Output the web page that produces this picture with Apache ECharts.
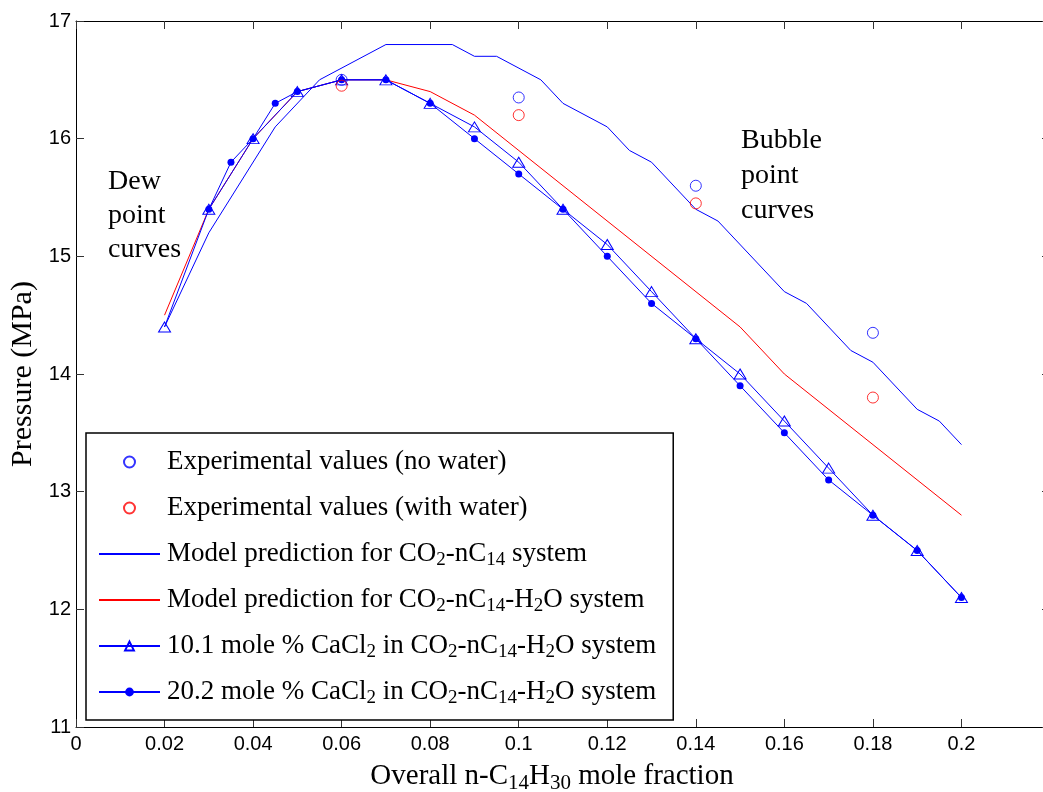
<!DOCTYPE html>
<html>
<head>
<meta charset="utf-8">
<script src="https://cdn.jsdelivr.net/npm/echarts@6/dist/echarts.min.js"></script>
<style>
  html, body { margin: 0; padding: 0; background: #fff; overflow: hidden; }
  /* the axes box runs slightly past the right edge of the window */
  #chart { width: 1052px; height: 792px; }
</style>
</head>
<body>
<div id="chart"></div>
<script>
// Experimental bubble/dew point pressures (MPa)
const expX = [0.06, 0.10, 0.14, 0.18];
const expNoWaterP = [16.5, 16.35, 15.6, 14.35];
const expWithWaterP = [16.45, 16.2, 15.45, 13.8];

// Model prediction, CO2-nC14
const modelDryX = [0.02, 0.03, 0.045, 0.055, 0.07, 0.085, 0.09, 0.095, 0.105, 0.11, 0.12, 0.125, 0.13, 0.14, 0.145, 0.16, 0.165, 0.175, 0.18, 0.19, 0.195, 0.2];
const modelDryP = [14.4, 15.2, 16.1, 16.5, 16.8, 16.8, 16.7, 16.7, 16.5, 16.3, 16.1, 15.9, 15.8, 15.4, 15.3, 14.7, 14.6, 14.2, 14.1, 13.7, 13.6, 13.4];

// Model prediction, CO2-nC14-H2O
const modelWetX = [0.02, 0.03, 0.04, 0.05, 0.06, 0.07, 0.08, 0.09, 0.15, 0.16, 0.2];
const modelWetP = [14.5, 15.4, 16.0, 16.4, 16.5, 16.5, 16.4, 16.2, 14.4, 14.0, 12.8];

// 10.1 mole % CaCl2
const cacl10X = [0.02, 0.03, 0.04, 0.05, 0.06, 0.07, 0.08, 0.09, 0.10, 0.11, 0.12, 0.13, 0.14, 0.15, 0.16, 0.17, 0.18, 0.19, 0.2];
const cacl10P = [14.4, 15.4, 16.0, 16.4, 16.5, 16.5, 16.3, 16.1, 15.8, 15.4, 15.1, 14.7, 14.3, 14.0, 13.6, 13.2, 12.8, 12.5, 12.1];

// 20.2 mole % CaCl2
const cacl20X = [0.03, 0.035, 0.04, 0.045, 0.05, 0.06, 0.07, 0.08, 0.09, 0.10, 0.11, 0.12, 0.13, 0.14, 0.15, 0.16, 0.17, 0.18, 0.19, 0.2];
const cacl20P = [15.4, 15.8, 16.0, 16.3, 16.4, 16.5, 16.5, 16.3, 16.0, 15.7, 15.4, 15.0, 14.6, 14.3, 13.9, 13.5, 13.1, 12.8, 12.5, 12.1];

// Axis ranges
const xMin = 0, xMax = 0.22, xStep = 0.02;
const yMin = 11, yMax = 17, yStep = 1;

const seriesNames = [
  'Experimental values (no water)',
  'Experimental values (with water)',
  'Model prediction for CO2-nC14 system',
  'Model prediction for CO2-nC14-H2O system',
  '10.1 mole % CaCl2 in CO2-nC14-H2O system',
  '20.2 mole % CaCl2 in CO2-nC14-H2O system'
];
const legendRich = {
  [seriesNames[0]]: 'Experimental values (no water)',
  [seriesNames[1]]: 'Experimental values (with water)',
  [seriesNames[2]]: 'Model prediction for CO{s|2}-nC{s|14} system',
  [seriesNames[3]]: 'Model prediction for CO{s|2}-nC{s|14}-H{s|2}O system',
  [seriesNames[4]]: '10.1 mole % CaCl{s|2} in CO{s|2}-nC{s|14}-H{s|2}O system',
  [seriesNames[5]]: '20.2 mole % CaCl{s|2} in CO{s|2}-nC{s|14}-H{s|2}O system'
};
// line-only entries: no marker in the legend key
const lineOnly = [seriesNames[2], seriesNames[3]];

const zip = (xs, ys) => xs.map((x, i) => [x, ys[i]]);

const SERIF = 'Liberation Serif';
const SANS = 'Liberation Sans';
const BLUE = '#0000ff';
const RED = '#ff0000';

const subStyle = (size, lh, drop) => ({ fontFamily: SERIF, fontSize: size, lineHeight: lh, padding: [drop, 0, 0, 0], color: '#000' });

const chart = echarts.init(document.getElementById('chart'), null, { renderer: 'canvas' });

const commonAxis = {
  axisLine: { show: true, onZero: false, lineStyle: { color: '#000', width: 1 } },
  axisTick: { show: true, inside: true, length: 8, lineStyle: { color: '#333' } },
  splitLine: { show: false }
};

chart.setOption({
  animation: false,
  backgroundColor: '#fff',
  grid: { left: 76, top: 21, width: 974, height: 706, containLabel: false, outerBoundsMode: 'none' },
  xAxis: [
    Object.assign({}, commonAxis, {
      type: 'value', position: 'bottom', min: xMin, max: xMax, interval: xStep,
      axisLabel: { show: true, margin: 7, color: '#000', fontFamily: SANS, fontSize: 20, showMaxLabel: false },
      name: 'Overall n-C{s|14}H{s|30} mole fraction',
      nameLocation: 'middle', nameGap: 29,
      nameTextStyle: { fontFamily: SERIF, fontSize: 29, lineHeight: 33, color: '#000', padding: [0, 22, 0, 0],
        rich: { s: subStyle(21, 33, 14) } }
    }),
    Object.assign({}, commonAxis, {
      type: 'value', position: 'top', min: xMin, max: xMax, interval: xStep,
      axisLabel: { show: false }
    })
  ],
  yAxis: [
    Object.assign({}, commonAxis, {
      type: 'value', position: 'left', min: yMin, max: yMax, interval: yStep,
      axisLabel: { show: true, margin: 5, color: '#000', fontFamily: SANS, fontSize: 20 },
      name: 'Pressure (MPa)', nameLocation: 'middle', nameGap: 38,
      nameTextStyle: { fontFamily: SERIF, fontSize: 30, color: '#000' }
    }),
    Object.assign({}, commonAxis, {
      type: 'value', position: 'right', min: yMin, max: yMax, interval: yStep,
      axisLabel: { show: false }
    })
  ],
  legend: {
    orient: 'vertical', left: 86, top: 433,
    padding: [13, 17, 12, 12],
    itemWidth: 61, itemHeight: 11, itemGap: 14,
    borderColor: '#000', borderWidth: 1.5, backgroundColor: '#fff',
    data: seriesNames.map((n) => lineOnly.includes(n) ? { name: n, itemStyle: { opacity: 0 } } : n),
    formatter: (name) => legendRich[name],
    textStyle: { fontFamily: SERIF, fontSize: 27, lineHeight: 32, color: '#000', padding: [0, 0, 0, 2],
      rich: { s: subStyle(19, 32, 13) } }
  },
  graphic: [
    { type: 'text', left: 108, top: 165, z: 10,
      style: { text: 'Dew\npoint\ncurves', font: '28px "Liberation Serif"', lineHeight: 34, fill: '#000' } },
    { type: 'text', left: 741, top: 123, z: 10,
      style: { text: 'Bubble\npoint\ncurves', font: '28px "Liberation Serif"', lineHeight: 35, fill: '#000' } }
  ],
  series: [
    {
      name: seriesNames[2], type: 'line', data: zip(modelDryX, modelDryP),
      symbol: 'none', lineStyle: { color: BLUE, width: 1 }, itemStyle: { color: BLUE }, z: 2
    },
    {
      name: seriesNames[3], type: 'line', data: zip(modelWetX, modelWetP),
      symbol: 'none', lineStyle: { color: RED, width: 1 }, itemStyle: { color: RED }, z: 2
    },
    {
      name: seriesNames[4], type: 'line', data: zip(cacl10X, cacl10P),
      symbol: 'triangle', symbolSize: [12, 10], showAllSymbol: true,
      lineStyle: { color: BLUE, width: 1 },
      itemStyle: { color: 'rgba(0,0,0,0)', borderColor: BLUE, borderWidth: 1 }, z: 3
    },
    {
      name: seriesNames[5], type: 'line', data: zip(cacl20X, cacl20P),
      symbol: 'circle', symbolSize: 7, showAllSymbol: true,
      lineStyle: { color: BLUE, width: 1 },
      itemStyle: { color: BLUE, borderWidth: 0 }, z: 4
    },
    {
      name: seriesNames[0], type: 'scatter', data: zip(expX, expNoWaterP),
      symbol: 'circle', symbolSize: 11,
      itemStyle: { color: 'rgba(0,0,0,0)', borderColor: BLUE, borderWidth: 1 }, z: 5
    },
    {
      name: seriesNames[1], type: 'scatter', data: zip(expX, expWithWaterP),
      symbol: 'circle', symbolSize: 11,
      itemStyle: { color: 'rgba(0,0,0,0)', borderColor: RED, borderWidth: 1 }, z: 5
    }
  ]
});
</script>
</body>
</html>
